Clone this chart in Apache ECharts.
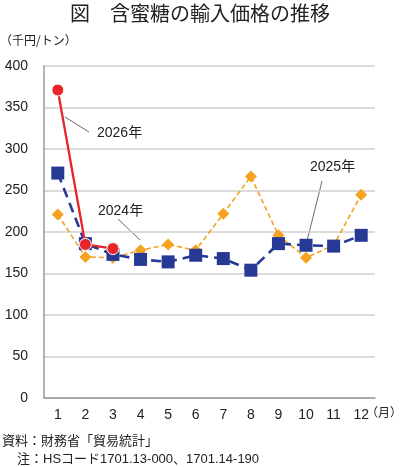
<!DOCTYPE html>
<html><head><meta charset="utf-8">
<script src="https://cdn.jsdelivr.net/npm/echarts@6/dist/echarts.min.js"></script>
<style>html,body{margin:0;padding:0;background:#fff}#c{width:400px;height:467px}</style>
</head><body><div id="c"></div>
<script>
const months = ['1','2','3','4','5','6','7','8','9','10','11','12'];
const yTicks = [0,50,100,150,200,250,300,350,400];
const v2026 = [371,185,180,null,null,null,null,null,null,null,null,null];
const v2025 = [271,186,173,167,164,172,168,154,186,184,183,196];
const v2024 = [221,170,169,178,185,178,222,267,196,169,184,245];

const FONT = '"Liberation Sans","Noto Sans CJK JP",sans-serif';
const JFONT = '"Noto Sans CJK JP",sans-serif';
const chart = echarts.init(document.getElementById('c'));
chart.setOption({
  animation:false,
  textStyle:{fontFamily:FONT},
  grid:{left:44,right:25,top:66,bottom:69},
  xAxis:{type:'category',data:months,boundaryGap:true,
    axisLine:{lineStyle:{color:'#999',width:1.5}},axisTick:{show:false},
    axisLabel:{color:'#222',fontSize:14,margin:10,fontFamily:FONT}},
  yAxis:{type:'value',min:yTicks[0],max:yTicks[yTicks.length-1],interval:50,
    axisLine:{show:true,lineStyle:{color:'#999',width:1.5}},axisTick:{show:false},
    splitLine:{lineStyle:{color:'#cfcfcf',width:1.5}},
    axisLabel:{color:'#222',fontSize:14,margin:16,fontFamily:FONT}},
  series:[
    {name:'2024年',type:'line',data:v2024,symbol:'diamond',symbolSize:12,
     lineStyle:{color:'#f4a21f',width:1.6,type:[5,3]},itemStyle:{color:'#f4a21f'},z:2},
    {name:'2025年',type:'line',data:v2025,symbol:'rect',symbolSize:13,
     lineStyle:{color:'#263a95',width:2.6,type:[10,6]},itemStyle:{color:'#263a95'},z:3},
    {name:'2026年',type:'line',data:v2026,symbol:'circle',symbolSize:12,connectNulls:false,
     lineStyle:{color:'#e8232a',width:2.3},itemStyle:{color:'#e8232a',borderColor:'#fff',borderWidth:1},z:4}
  ],
  graphic:[
    {type:'text',left:'center',top:3,style:{text:'図　含蜜糖の輸入価格の推移',fill:'#222',font:'20px '+JFONT}},
    {type:'text',left:0,top:34,style:{text:'（千円/トン）',fill:'#222',font:'12px '+JFONT}},
    {type:'text',left:366,top:406,style:{text:'（月）',fill:'#222',font:'12px '+JFONT}},
    {type:'text',left:2,top:434,style:{text:'資料：財務省「貿易統計」',fill:'#222',font:'13px '+JFONT}},
    {type:'text',left:17,top:453,style:{text:'注：HSコード1701.13-000、1701.14-190',fill:'#222',font:'13px '+FONT}},
    {type:'text',left:97,top:126,style:{text:'2026年',fill:'#222',font:'14px '+FONT}},
    {type:'line',shape:{x1:65,y1:117,x2:89,y2:132},style:{stroke:'#444',lineWidth:0.8}},
    {type:'text',left:98,top:204,style:{text:'2024年',fill:'#222',font:'14px '+FONT}},
    {type:'line',shape:{x1:118,y1:219,x2:140,y2:240},style:{stroke:'#444',lineWidth:0.8}},
    {type:'text',left:310,top:160,style:{text:'2025年',fill:'#222',font:'14px '+FONT}},
    {type:'line',shape:{x1:322,y1:181,x2:307,y2:241},style:{stroke:'#444',lineWidth:0.8}}
  ]
});
</script></body></html>
